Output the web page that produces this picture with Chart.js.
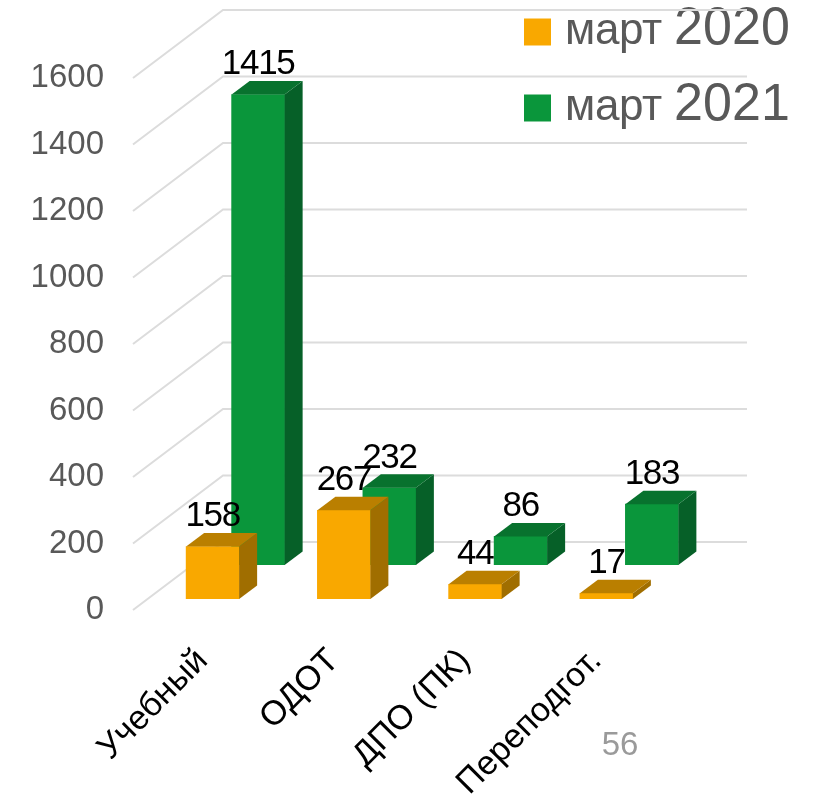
<!DOCTYPE html>
<html>
<head>
<meta charset="utf-8">
<title>Chart</title>
<style>
  @font-face { font-family: "LegendWord"; src: local("Liberation Sans"); size-adjust: 158%; unicode-range: U+0400-04FF, U+0020; }
  @font-face { font-family: "LegendYear"; src: local("Liberation Sans"); size-adjust: 187%; }
  html, body { margin: 0; padding: 0; background: #fff; }
  canvas { display: block; }
</style>
<script src="https://cdn.jsdelivr.net/npm/chart.js@4/dist/chart.umd.min.js"></script>
</head>
<body>
<canvas id="chartCanvas" width="814" height="794"></canvas>
<script>
const categories = ['Учебный', 'ОДОТ', 'ДПО (ПК)', 'Переподгот.'];
const march2020 = [158, 267, 44, 17];
const march2021 = [1415, 232, 86, 183];
const seriesNames = ['март 2020', 'март 2021'];
const pageNumber = '56';

// faces of the fake 3d boxes
const frontColors = ['#F9A800', '#0A963B'];
const topColors = ['#BA7F00', '#08722E'];
const sideColors = ['#A06E00', '#066028'];

// how far each row of boxes sits from the front of the floor
const rowShift = [{ x: 0, y: -11 }, { x: 45.5, y: -45 }];
const boxDepth = { x: 18, y: -13.5 };
const wallDepth = { x: 90, y: -68 };
const wallRight = 747;

const fake3d = {
  id: 'fake3d',
  afterLayout(chart) {
    // legend sits over the wall, top right. right has to move too, the legend clips to its box
    chart.legend.left = 476;
    chart.legend.top = -30;
    chart.legend.right = chart.width;
  },
  beforeDatasetsDraw(chart) {
    const { ctx, scales: { y }, chartArea } = chart;
    const frontX = chartArea.left - 14;
    ctx.save();
    ctx.strokeStyle = '#DCDCDC';
    ctx.lineWidth = 2;
    y.ticks.forEach(t => {
      const py = y.getPixelForValue(t.value);
      ctx.beginPath();
      ctx.moveTo(frontX, py);
      ctx.lineTo(frontX + wallDepth.x, py + wallDepth.y);
      ctx.lineTo(wallRight, py + wallDepth.y);
      ctx.stroke();
    });
    ctx.restore();
  },
  beforeDatasetDraw(chart, args) {
    const s = rowShift[args.index];
    chart.ctx.save();
    chart.ctx.translate(s.x, s.y);
  },
  afterDatasetDraw(chart, args) {
    const { ctx } = chart;
    args.meta.data.forEach(bar => {
      const { x, y, base, width } = bar.getProps(['x', 'y', 'base', 'width'], true);
      const r = x + width / 2;
      const l = x - width / 2;
      ctx.fillStyle = sideColors[args.index];
      ctx.beginPath();
      ctx.moveTo(r, y);
      ctx.lineTo(r + boxDepth.x, y + boxDepth.y);
      ctx.lineTo(r + boxDepth.x, base + boxDepth.y);
      ctx.lineTo(r, base);
      ctx.closePath();
      ctx.fill();
      ctx.fillStyle = topColors[args.index];
      ctx.beginPath();
      ctx.moveTo(l, y);
      ctx.lineTo(l + boxDepth.x, y + boxDepth.y);
      ctx.lineTo(r + boxDepth.x, y + boxDepth.y);
      ctx.lineTo(r, y);
      ctx.closePath();
      ctx.fill();
    });
    ctx.restore();
  },
  afterDatasetsDraw(chart) {
    const { ctx } = chart;
    ctx.save();
    ctx.font = '35px "Liberation Sans"';
    ctx.letterSpacing = '-1.3px';
    ctx.textAlign = 'center';
    ctx.textBaseline = 'middle';
    ctx.fillStyle = '#000';
    chart.data.datasets.forEach((ds, i) => {
      chart.getDatasetMeta(i).data.forEach((bar, j) => {
        ctx.fillText(ds.data[j], bar.x + rowShift[i].x, bar.y + rowShift[i].y - 30);
      });
    });
    ctx.letterSpacing = '0px';
    ctx.font = '33px "Liberation Sans"';
    ctx.fillStyle = '#9A9A9A';
    ctx.fillText(pageNumber, 620, 746);
    ctx.restore();
  }
};

function drawChart() {
  const ctx = document.getElementById('chartCanvas').getContext('2d');
  new Chart(ctx, {
    type: 'bar',
    data: {
      labels: categories,
      datasets: [
        { label: seriesNames[0], data: march2020, backgroundColor: frontColors[0], order: 1 },
        { label: seriesNames[1], data: march2021, backgroundColor: frontColors[1], order: 2 }
      ]
    },
    plugins: [fake3d],
    options: {
      responsive: false,
      animation: false,
      layout: { padding: { top: 78, right: 142, left: 0, bottom: 0 } },
      datasets: { bar: { grouped: false, barThickness: 53 } },
      scales: {
        x: {
          grid: { display: false },
          border: { display: false },
          afterFit(scale) { scale.height = 184; scale.paddingLeft = 0; scale.paddingRight = 0; },
          ticks: {
            autoSkip: false, minRotation: 45, maxRotation: 45, padding: 23, labelOffset: -10, color: '#000',
            font: { family: '"Liberation Sans"', size: 34 }
          }
        },
        y: {
          min: 0,
          max: 1600,
          grid: { display: false, drawTicks: false },
          border: { display: false },
          afterFit(scale) { scale.width = 147; },
          ticks: {
            stepSize: 200, padding: 43, color: '#595959',
            font: { family: '"Liberation Sans"', size: 33 },
            callback: v => String(v)
          }
        }
      },
      plugins: {
        tooltip: { enabled: false },
        legend: {
          position: 'chartArea',
          align: 'start',
          labels: {
            boxWidth: 27, boxHeight: 27, padding: 48, color: '#595959',
            font: { family: 'LegendWord, LegendYear', size: 28, lineHeight: 1.2 }
          }
        }
      }
    }
  });
}

// the legend faces have to be in before the text is drawn
Promise.all([
  document.fonts.load('28px LegendWord', 'март'),
  document.fonts.load('28px LegendYear', '2021')
]).then(drawChart, drawChart);
</script>
</body>
</html>
